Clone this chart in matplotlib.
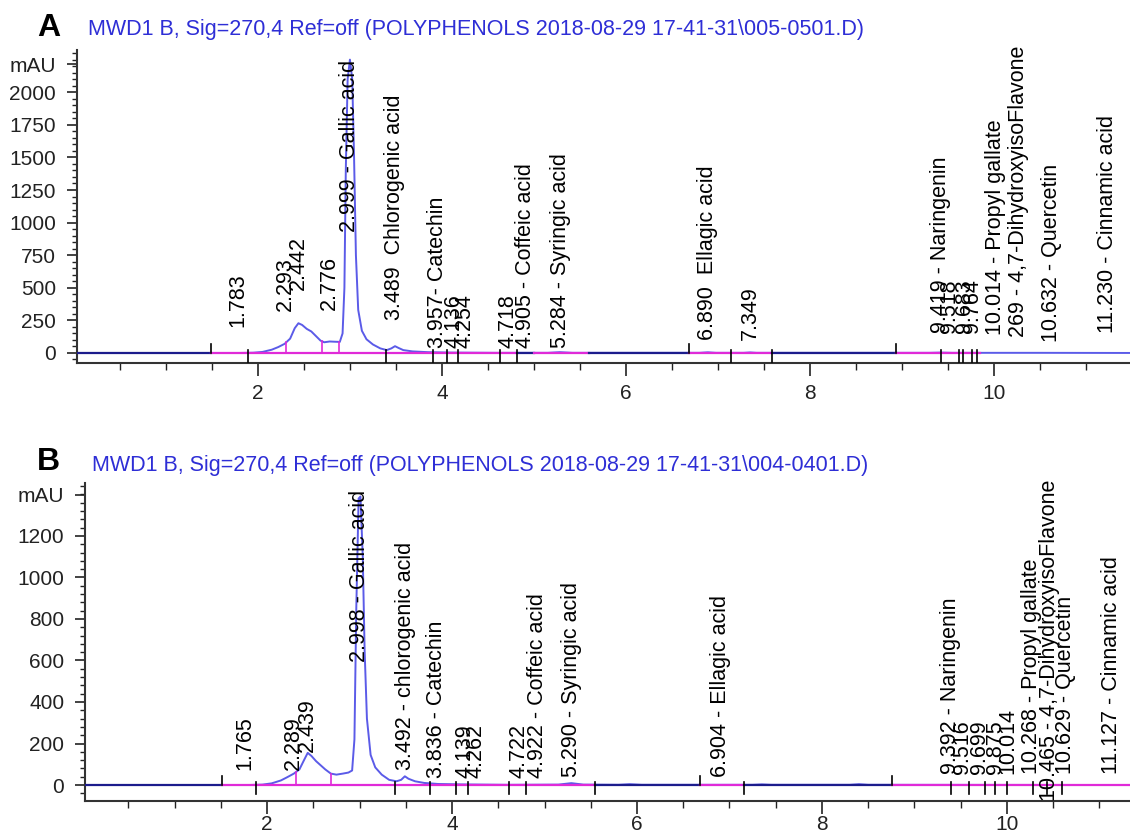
import numpy as np
import matplotlib
matplotlib.use("Agg")
import matplotlib.pyplot as plt
from matplotlib.ticker import MultipleLocator

plt.rcParams['font.family'] = ['Liberation Sans', 'DejaVu Sans']

# ---- chromatogram A (005-0501.D) ----
time_a = [0.03, 1.80, 1.95, 2.05, 2.15, 2.22, 2.29, 2.35, 2.40, 2.44, 2.48, 2.53, 2.58,
          2.63, 2.68, 2.72, 2.78, 2.84, 2.89, 2.92, 2.94, 2.955, 2.975, 3.00, 3.025, 3.045,
          3.065, 3.09, 3.13, 3.18, 3.25, 3.33, 3.40, 3.45, 3.49, 3.53, 3.58, 3.68, 3.85,
          4.10, 4.60, 5.15, 5.28, 5.42, 6.80, 6.89, 6.98, 7.28, 7.35, 7.42, 9.30, 9.42,
          9.55, 10.50, 11.50]
mau_a = [0, 0, 2, 8, 25, 45, 70, 110, 190, 228, 215, 185, 165,
         130, 95, 82, 88, 86, 85, 150, 500, 1400, 2100, 2250, 2100, 1500,
         750, 330, 170, 105, 65, 35, 22, 35, 52, 38, 22, 12, 6,
         3, 1, 1, 6, 1, 1, 5, 1, 1, 4, 1, 1, 3,
         1, 1, 0]

labels_a = ["1.783", "2.293", "2.442", "2.776", "2.999 - Gallic acid", "3.489  Chlorogenic acid",
            "3.957- Catechin", "4.136", "4.254", "4.718", "4.905 - Coffeic acid",
            "5.284 - Syringic acid", "6.890  Ellagic acid", "7.349", "9.419 - Naringenin",
            "9.518", "9.683", "9.764", "10.014 - Propyl gallate",
            "269 - 4,7-DihydroxyisoFlavone", "10.632 - Quercetin", "11.230 - Cinnamic acid"]
rt_a = [1.783, 2.293, 2.442, 2.776, 2.999, 3.489, 3.957, 4.136, 4.254, 4.718, 4.905,
        5.284, 6.890, 7.349, 9.419, 9.518, 9.683, 9.764, 10.014, 10.269, 10.632, 11.230]
label_base_a = [200, 320, 480, 330, 930, 250, 40, 40, 40, 40, 40,
                40, 100, 100, 150, 150, 150, 150, 140, 120, 85, 150]

# integration marks (up / down) and drop lines
marks_up_a = [1.49, 6.69, 8.94]
marks_down_a = [1.89, 3.39, 3.90, 4.05, 4.18, 4.63, 4.82, 7.14, 7.59, 9.42, 9.62, 9.67, 9.76, 9.82]
drops_a = [2.31, 2.70, 2.88]
base_a = [(0.03, 1.49, 'navy'), (1.49, 4.82, 'mag'), (4.82, 5.00, 'navy'), (5.00, 5.60, 'mag'),
          (5.60, 6.69, 'navy'), (6.69, 7.59, 'mag'), (7.59, 8.94, 'navy'), (8.94, 9.85, 'mag')]

# ---- chromatogram B (004-0401.D) ----
time_b = [0.03, 1.80, 1.95, 2.05, 2.15, 2.22, 2.29, 2.35, 2.40, 2.44, 2.48, 2.53, 2.58,
          2.63, 2.69, 2.75, 2.82, 2.88, 2.92, 2.945, 2.965, 2.99, 3.01, 3.035, 3.055, 3.08,
          3.12, 3.17, 3.24, 3.32, 3.40, 3.45, 3.49, 3.53, 3.60, 3.70, 3.85, 4.10, 4.60,
          5.15, 5.29, 5.42, 5.80, 5.92, 6.05, 7.25, 7.35, 7.45, 8.30, 8.40, 8.50, 11.40]
mau_b = [0, 0, 2, 8, 22, 38, 55, 75, 120, 155, 140, 115, 95,
         75, 55, 50, 55, 60, 70, 220, 850, 1380, 1390, 1100, 650, 320,
         145, 85, 50, 25, 18, 25, 42, 30, 18, 10, 5, 3, 1,
         2, 9, 2, 1, 4, 1, 1, 3, 1, 1, 4, 1, 0]

labels_b = ["1.765", "2.289", "2.439", "2.998 - Gallic acid", "3.492 - chlorogenic acid",
            "3.836 - Catechin", "4.139", "4.262", "4.722", "4.922 - Coffeic acid",
            "5.290 - Syringic acid", "6.904 - Ellagic acid", "9.392 - Naringenin", "9.516",
            "9.699", "9.875", "10.014", "10.268 - Propyl gallate",
            "10.465 - 4,7-DihydroxyisoFlavone", "10.629 - Quercetin", "11.127 - Cinnamic acid"]
rt_b = [1.765, 2.289, 2.439, 2.998, 3.492, 3.836, 4.139, 4.262, 4.722, 4.922, 5.290, 6.904,
        9.392, 9.516, 9.699, 9.875, 10.014, 10.268, 10.465, 10.629, 11.127]
label_base_b = [70, 70, 160, 593, 72, 35, 35, 35, 35, 35, 40, 40,
                55, 55, 55, 55, 55, 55, -75, 55, 55]

marks_up_b = [1.51, 6.68, 8.76]
marks_down_b = [1.88, 3.38, 3.76, 4.04, 4.17, 4.62, 4.80, 5.55, 7.16, 9.39, 9.59, 9.76,
                9.87, 10.00, 10.28, 10.43, 10.60]
drops_b = [2.31, 2.69]
base_b = [(0.03, 1.51, 'navy'), (1.51, 5.55, 'mag'), (5.55, 6.68, 'navy'), (6.68, 7.16, 'mag'),
          (7.16, 8.76, 'navy'), (8.76, 11.33, 'mag')]

TRACE = '#5b5be8'
NAVY = '#1c1c8c'
MAG = '#e02ad8'
TITLE_BLUE = '#2e2ed6'


def draw_panel(ax, t, y, labels, rts, lab_base, m_up, m_down, drops, base, ylim, xlim,
               yticks, ymau, yminor, px, xpad):
    # px = data units per pixel on y
    ax.plot(t, y, color=TRACE, lw=1.4, zorder=2)
    for s, e, c in base:
        ax.plot([s, e], [0, 0], color=NAVY if c == 'navy' else MAG, lw=1.6, zorder=3)
    for d in drops:
        ax.plot([d, d], [0, np.interp(d, t, y)], color=MAG, lw=1.2, zorder=3)
    for m in m_up:
        ax.plot([m, m], [0, 9 * px], color='black', lw=1.2, zorder=4)
    for m in m_down:
        ax.plot([m, m], [3 * px, -9 * px], color='black', lw=1.2, zorder=4)
    for lab, r, b in zip(labels, rts, lab_base):
        ax.text(r, b, lab, rotation=90, ha='center', va='bottom', fontsize=15.5,
                color='black', zorder=5)

    ax.set_xlim(*xlim)
    ax.set_ylim(*ylim)
    ax.set_yticks(yticks + [ymau])
    ax.set_yticklabels([str(v) for v in yticks] + ['mAU'])
    ax.yaxis.set_minor_locator(MultipleLocator(yminor))
    ax.set_xticks([2, 4, 6, 8, 10])
    ax.xaxis.set_minor_locator(MultipleLocator(0.5))
    for s in ['top', 'right']:
        ax.spines[s].set_visible(False)
    for s in ['left', 'bottom']:
        ax.spines[s].set_linewidth(1.5)
        ax.spines[s].set_color('#333333')
    ax.tick_params(axis='y', which='major', length=7, width=1.2, pad=8, labelsize=15,
                   colors='#222222')
    ax.tick_params(axis='y', which='minor', length=3.5, width=1.0, color='#222222')
    ax.tick_params(axis='x', which='major', length=9, width=1.2, pad=xpad, labelsize=15,
                   colors='#222222')
    ax.tick_params(axis='x', which='minor', length=5, width=1.0, color='#222222')


fig = plt.figure(figsize=(11.3, 8.32), dpi=100)

ax1 = fig.add_axes([77 / 1130, (832 - 363) / 832, 1 - 77 / 1130, (363 - 50) / 832])
draw_panel(ax1, time_a, mau_a, labels_a, rt_a, label_base_a, marks_up_a, marks_down_a,
           drops_a, base_a, (-77, 2324), (0.033, 11.48),
           [0, 250, 500, 750, 1000, 1250, 1500, 1750, 2000], 2215, 50, 1 / 0.1304, 6)

ax2 = fig.add_axes([85 / 1130, (832 - 801) / 832, 1 - 85 / 1130, (801 - 483) / 832])
draw_panel(ax2, time_b, mau_b, labels_b, rt_b, label_base_b, marks_up_b, marks_down_b,
           drops_b, base_b, (-77, 1455), (0.032, 11.33),
           [0, 200, 400, 600, 800, 1000, 1200], 1398, 40, 1 / 0.2075, 1)

fig.text(37 / 1130, 1 - 28 / 832, 'A', fontsize=23, fontweight='bold', va='center', ha='left')
fig.text(88 / 1130, 1 - 30 / 832,
         'MWD1 B, Sig=270,4 Ref=off (POLYPHENOLS 2018-08-29 17-41-31\\005-0501.D)',
         fontsize=15.5, color=TITLE_BLUE, va='center', ha='left')
fig.text(37 / 1130, 1 - 462 / 832, 'B', fontsize=23, fontweight='bold', va='center', ha='left')
fig.text(92 / 1130, 1 - 466 / 832,
         'MWD1 B, Sig=270,4 Ref=off (POLYPHENOLS 2018-08-29 17-41-31\\004-0401.D)',
         fontsize=15.5, color=TITLE_BLUE, va='center', ha='left')

fig.savefig('out.png', dpi=100)
